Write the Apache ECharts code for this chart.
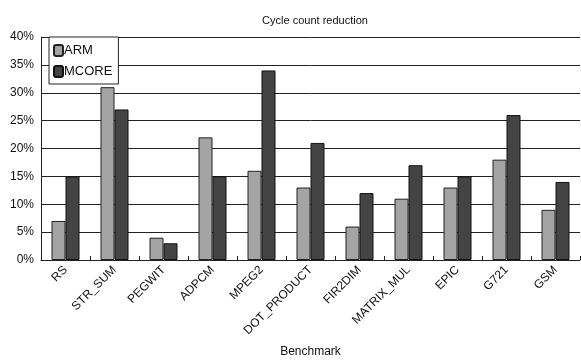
<!DOCTYPE html>
<html><head><meta charset="utf-8">
<script src="https://cdn.jsdelivr.net/npm/echarts@6/dist/echarts.min.js"></script>
<style>html,body{margin:0;padding:0;background:#fff}#c{width:581px;height:363px}</style>
</head><body><div id="c"></div>
<script>
const categories = ['RS','STR_SUM','PEGWIT','ADPCM','MPEG2','DOT_PRODUCT','FIR2DIM','MATRIX_MUL','EPIC','G721','GSM'];
const armValues = [7,31,4,22,16,13,6,11,13,18,9];
const mcoreValues = [15,27,3,15,34,21,12,17,15,26,14];
const yTicks = [0,5,10,15,20,25,30,35,40];

const chart = echarts.init(document.getElementById('c'));
chart.setOption({
  animation:false,
  backgroundColor:'#fff',
  textStyle:{fontFamily:'Liberation Sans, Arial, sans-serif'},
  title:{text:'Cycle count reduction',left:310,top:10,textAlign:'center',
    textStyle:{fontSize:11,fontWeight:'normal',color:'#111'}},
  legend:{left:49,top:37,orient:'vertical',itemWidth:9,itemHeight:11,itemGap:8,
    padding:[7,6,6,4],borderColor:'#222',borderWidth:1,backgroundColor:'#fff',
    textStyle:{fontSize:13,color:'#111',padding:[0,0,0,-4]},
    data:['ARM','MCORE']},
  grid:{left:41,right:1,top:37,bottom:102,containLabel:false},
  xAxis:{type:'category',data:categories,name:'Benchmark',nameLocation:'middle',nameGap:86,
    nameTextStyle:{fontSize:12,color:'#111'},
    axisLine:{lineStyle:{color:'#222',width:1}},
    axisTick:{show:true,inside:true,length:4,lineStyle:{color:'#222'}},
    axisLabel:{rotate:45,fontSize:12,color:'#111',margin:8,interval:0}},
  yAxis:{type:'value',min:0,max:40,interval:5,
    axisLine:{show:true,lineStyle:{color:'#222'}},
    axisTick:{show:false},
    axisLabel:{formatter:v=>v+'%',fontSize:12,color:'#111',margin:7,
      customValues:yTicks},
    splitLine:{lineStyle:{color:'#222',width:1}}},
  series:[
    {name:'ARM',type:'bar',data:armValues,barWidth:14,barGap:'0%',
      itemStyle:{color:'#a4a4a4',borderColor:'#222',borderWidth:1}},
    {name:'MCORE',type:'bar',data:mcoreValues,barWidth:14,
      itemStyle:{color:'#444',borderColor:'#111',borderWidth:1}}
  ]
});
</script></body></html>
